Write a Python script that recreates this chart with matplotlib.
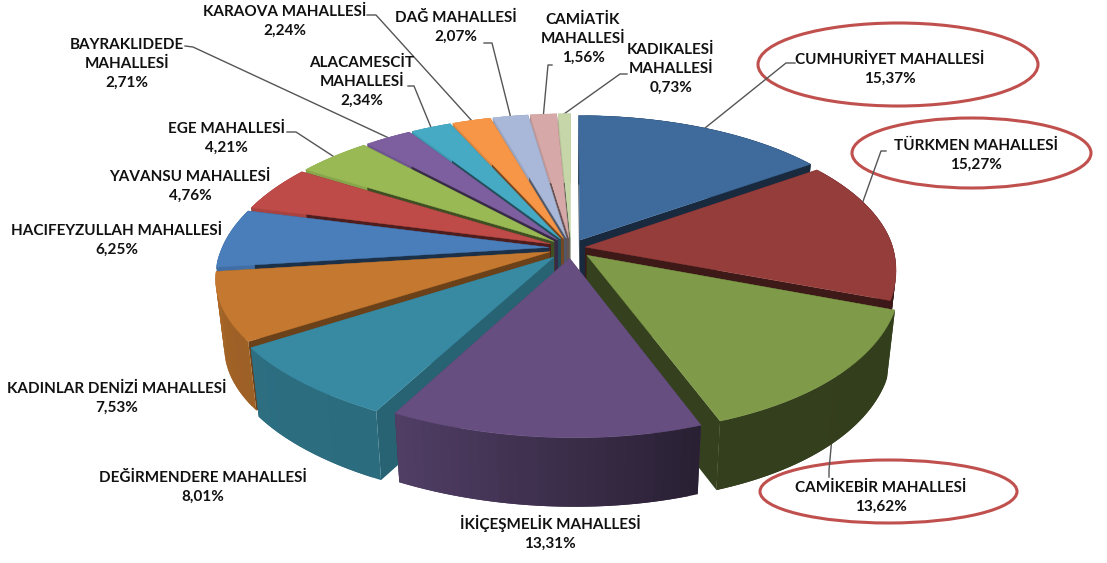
import numpy as np
import matplotlib
matplotlib.use("Agg")
import matplotlib.pyplot as plt
from matplotlib.patches import Polygon, Ellipse
from matplotlib.colors import to_rgb

# data, clockwise from 12 o'clock
names = ["CUMHURİYET MAHALLESİ", "TÜRKMEN MAHALLESİ", "CAMİKEBİR MAHALLESİ",
         "İKİÇEŞMELİK MAHALLESİ", "DEĞİRMENDERE MAHALLESİ", "KADINLAR DENİZİ MAHALLESİ",
         "HACIFEYZULLAH MAHALLESİ", "YAVANSU MAHALLESİ", "EGE MAHALLESİ",
         "BAYRAKLIDEDE\nMAHALLESİ", "ALACAMESCİT\nMAHALLESİ", "KARAOVA MAHALLESİ",
         "DAĞ MAHALLESİ", "CAMİATİK\nMAHALLESİ", "KADIKALESİ\nMAHALLESİ"]
shares = [15.37, 15.27, 13.62, 13.31, 8.01, 7.53, 6.25, 4.76, 4.21,
          2.71, 2.34, 2.24, 2.07, 1.56, 0.73]
colors = ["#3E6A9C", "#953D3B", "#7F9A48", "#664F80", "#388AA2", "#C5782F",
          "#4A7EBB", "#BE4B48", "#98B954", "#7D5FA0", "#46AAC5", "#F79646",
          "#A9B8D8", "#D6A8A8", "#C6D6A8"]

# label centres in pixels
label_pos = [(890, 69), (976, 155), (881, 497), (550, 533), (203, 487), (117, 398),
             (117, 240), (190, 186), (226, 138), (127, 64), (362, 82), (285, 21),
             (456, 27), (583, 39), (671, 69)]
# leader start points (index of slice: label end, elbow)
leaders = {0: [(795, 63), (786, 63)], 1: [(886, 151), (881, 151)], 2: [(829, 477), (829, 470)],
           8: [(287, 132), (296, 132)], 9: [(185, 46), (193, 47)], 10: [(408, 86), (414, 86)],
           11: [(367, 15), (376, 15)], 12: [(484, 43), (492, 43)], 13: [(552, 65), (548, 65)],
           14: [(627, 74), (620, 74)]}
# where on its arc a leader lands, 0.5 unless listed
leader_frac = {1: 0.3}
circled = [(898, 64.5, 280, 83), (971.5, 153, 239, 70), (888.5, 491.5, 257, 63)]

# pie projection parameters (pixels)
cx, cy = 571, 248
rx, ry = 317, 147
persp_v, persp_u = 0.16, 0.03
explode = [0.06, 0.045, 0.07, 0.07, 0.08, 0.07, 0.07, 0.07, 0.07,
           0.07, 0.07, 0.07, 0.07, 0.07, 0.07]
depth = 69
taper = 0.975


def project(u, v):
    """disc coordinates to image pixels, with a bit of perspective"""
    w = 1 + persp_v * v + persp_u * u
    # front half leans a little, left side up
    return cx + rx * u / w, cy - ry * v / w - 3 * u - 12 * u * np.minimum(v, 0)


def shaded(color, k):
    return tuple(c * k for c in to_rgb(color))


def drop(x, y):
    """same point on the bottom face of the pie"""
    return cx + (x - cx) * taper, y + depth


edges = np.cumsum([0] + shares) / sum(shares) * 2 * np.pi
fig = plt.figure(figsize=(11.07, 5.63), dpi=100)
ax = fig.add_axes([0, 0, 1, 1])
ax.set_xlim(0, 1107)
ax.set_ylim(563, 0)
ax.axis("off")

# ellipses round the three biggest
for ex, ey, ew, eh in circled:
    ax.add_patch(Ellipse((ex, ey), ew, eh, fill=False, ec="#C0504D", lw=2.2, zorder=1))

mids = (edges[:-1] + edges[1:]) / 2

# leaders sit under the pie, the slice hides their far end
for i, pts in leaders.items():
    m = mids[i]
    a = edges[i] + leader_frac.get(i, 0.5) * (edges[i + 1] - edges[i])
    rim = project(explode[i] * np.sin(m) + np.sin(a), explode[i] * np.cos(m) + np.cos(a))
    xs = [p[0] for p in pts] + [rim[0]]
    ys = [p[1] for p in pts] + [rim[1]]
    ax.plot(xs, ys, color="#555555", lw=1, zorder=2)

# back slices first
order = sorted(range(len(shares)), key=lambda i: -np.cos(mids[i]))
z = 3
for i in order:
    a0, a1, m, col = edges[i], edges[i + 1], mids[i], colors[i]
    ou, ov = explode[i] * np.sin(m), explode[i] * np.cos(m)
    t = np.linspace(a0, a1, max(4, int((a1 - a0) * 40)))
    px, py = project(ou + np.sin(t), ov + np.cos(t))
    ax0, ay0 = project(ou, ov)

    # radial side walls
    side = np.interp(np.degrees(a0), [0, 110, 207, 236, 263, 300, 360],
                     [0.40, 0.42, 0.72, 0.54, 0.38, 0.42, 0.50])
    for ex, ey in [(px[0], py[0]), (px[-1], py[-1])]:
        ex2, ey2 = drop(ex, ey)
        ax02, ay02 = drop(ax0, ay0)
        ax.add_patch(Polygon([(ax0, ay0), (ex, ey), (ex2, ey2), (ax02, ay02)],
                             fc=shaded(col, side), lw=0, zorder=z))
        z += 1

    # curved outer wall, lighter to the left; strips overlap so no seams show
    for j in range(len(t) - 1):
        k = np.interp(np.degrees(t[j]), [100, 160, 205, 240, 270, 360],
                      [0.40, 0.41, 0.78, 0.80, 0.88, 0.90])
        end = min(j + 2, len(t) - 1)
        top_x, top_y = px[j:end + 1], py[j:end + 1]
        low_x, low_y = drop(top_x, top_y)
        ax.add_patch(Polygon(np.column_stack([np.r_[top_x, low_x[::-1]], np.r_[top_y, low_y[::-1]]]),
                             fc=shaded(col, k), lw=0, zorder=z))
        z += 1

    # top face
    ax.add_patch(Polygon(np.column_stack([np.r_[ax0, px], np.r_[ay0, py]]),
                         fc=col, ec=col, lw=0.3, zorder=z))
    z += 1

for name, val, (lx, ly) in zip(names, shares, label_pos):
    txt = name + "\n" + f"{val:.2f}".replace(".", ",") + "%"
    ax.text(lx, ly, txt, ha="center", va="center", family="Lato", weight="bold",
            fontsize=11, color="#111111", linespacing=1.42, zorder=2000)

fig.savefig("out.png", dpi=100)
